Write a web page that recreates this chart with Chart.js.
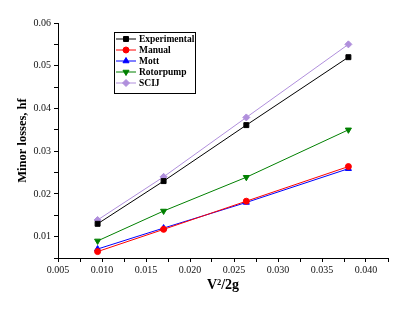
<!DOCTYPE html>
<html>
<head>
<meta charset="utf-8">
<script src="https://cdn.jsdelivr.net/npm/chart.js@4"></script>
<style>
    body { margin: 0; background: #fff; }
    #wrap { width: 408px; height: 311px; }
</style>
</head>
<body>
<div id="wrap"><canvas id="chart" width="408" height="311"></canvas></div>
<script>
// velocity head V^2/2g
const velocityHead = [0.0095, 0.0170, 0.0264, 0.0380];

// minor losses hf per method
const experimental = [0.013, 0.023, 0.0361, 0.052];
const manual = [0.0065, 0.0117, 0.0183, 0.0264];
const mott = [0.0071, 0.0120, 0.0180, 0.0259];
const rotorpump = [0.0090, 0.0160, 0.0239, 0.0350];
const scij = [0.0139, 0.0240, 0.0379, 0.0550];

const seriesNames = ["Experimental", "Manual", "Mott", "Rotorpump", "SCIJ"];
const seriesValues = [experimental, manual, mott, rotorpump, scij];
const seriesColors = ["#000000", "#ff0000", "#0000ff", "#008000", "#b08fdc"];
const seriesShapes = ["rect", "circle", "triangle", "triangle", "rectRot"];
const seriesRotation = [0, 0, 0, 180, 0];
const seriesRadius = [3.5, 3, 3.5, 3.5, 3.5];

const serif = "'Liberation Serif', 'Times New Roman', serif";

const datasets = seriesNames.map((name, i) => ({
    label: name,
    data: velocityHead.map((x, j) => ({ x: x, y: seriesValues[i][j] })),
    borderColor: seriesColors[i],
    backgroundColor: seriesColors[i],
    borderWidth: 1,
    pointStyle: seriesShapes[i],
    rotation: seriesRotation[i],
    pointRadius: seriesRadius[i],
    pointBorderWidth: 1,
    showLine: true,
    tension: 0,
}));

// Origin style boxed legend sitting inside the plot
const boxLegend = {
    id: "boxLegend",
    afterDatasetsDraw(chart) {
        const ctx = chart.ctx;
        const area = chart.chartArea;
        const x0 = area.left + 56;
        const y0 = area.top + 9;
        const rowH = 11;
        ctx.save();
        ctx.strokeStyle = "#000";
        ctx.lineWidth = 1;
        ctx.fillStyle = "#fff";
        ctx.fillRect(x0 + 0.5, y0 + 0.5, 81, 61);
        ctx.strokeRect(x0 + 0.5, y0 + 0.5, 81, 61);
        ctx.font = "bold 9.5px " + serif;
        ctx.textBaseline = "middle";
        seriesNames.forEach((name, i) => {
            const y = y0 + 7 + i * rowH;
            ctx.strokeStyle = seriesColors[i];
            ctx.beginPath();
            ctx.moveTo(x0 + 2, y);
            ctx.lineTo(x0 + 22, y);
            ctx.stroke();
            ctx.fillStyle = seriesColors[i];
            Chart.helpers.drawPoint(ctx, {
                pointStyle: seriesShapes[i],
                rotation: seriesRotation[i],
                radius: seriesRadius[i],
                borderWidth: 1,
            }, x0 + 12, y);
            ctx.fillStyle = "#000";
            ctx.fillText(name, x0 + 25, y + 0.5);
        });
        ctx.restore();
    },
};

new Chart(document.getElementById("chart"), {
    type: "scatter",
    data: { datasets: datasets },
    plugins: [boxLegend],
    options: {
        responsive: false,
        animation: false,
        layout: { padding: { top: 23, right: 20, bottom: 12, left: 0 } },
        plugins: {
            legend: { display: false },
            tooltip: { enabled: false },
        },
        scales: {
            x: {
                type: "linear",
                min: 0.005,
                max: 0.0425,
                border: { color: "#000", width: 1 },
                grid: {
                    drawOnChartArea: false,
                    drawTicks: true,
                    tickLength: 4,
                    tickColor: "#000",
                },
                ticks: {
                    stepSize: 0.0025,
                    padding: 2,
                    maxRotation: 0,
                    autoSkip: false,
                    color: "#111",
                    font: { family: serif, size: 10 },
                    callback: (v) => {
                        const k = Math.round(v * 10000);
                        if (k % 50 !== 0) return "";
                        return v.toFixed(3);
                    },
                },
                title: {
                    display: true,
                    text: "V\u00b2/2g",
                    color: "#000",
                    font: { family: serif, size: 14, weight: "bold" },
                    padding: { top: 4, bottom: 5 },
                },
                afterFit: (s) => { s.height = 311 - 258 - 12; },
            },
            y: {
                type: "linear",
                min: 0.005,
                max: 0.06,
                border: { color: "#000", width: 1 },
                grid: {
                    drawOnChartArea: false,
                    drawTicks: true,
                    tickLength: 4,
                    tickColor: "#000",
                },
                ticks: {
                    stepSize: 0.005,
                    padding: 3,
                    autoSkip: false,
                    color: "#111",
                    font: { family: serif, size: 10 },
                    callback: (v) => {
                        const k = Math.round(v * 1000);
                        if (k % 10 !== 0) return "";
                        return v.toFixed(2);
                    },
                },
                title: {
                    display: true,
                    text: "Minor losses, hf",
                    color: "#000",
                    font: { family: serif, size: 12.5, weight: "bold" },
                    padding: { top: 15, bottom: 0 },
                },
                afterFit: (s) => { s.width = 58; },
            },
        },
    },
});
</script>
</body>
</html>
